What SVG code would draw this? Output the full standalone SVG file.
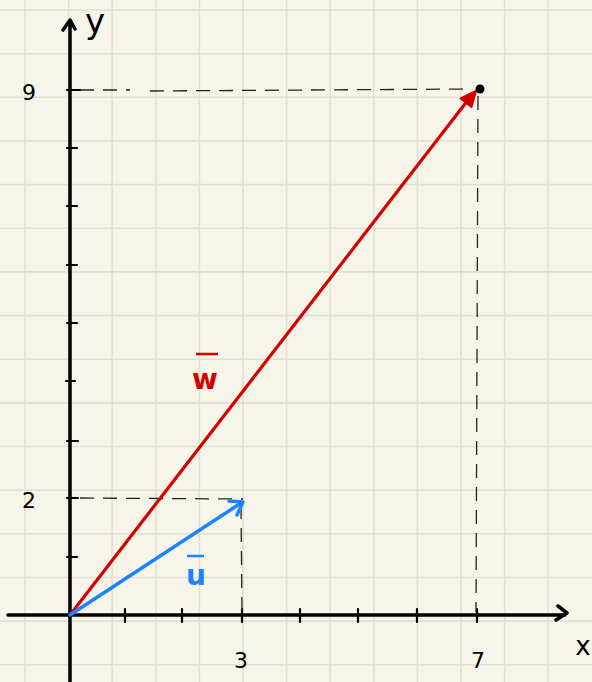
<svg xmlns="http://www.w3.org/2000/svg" width="592" height="682" viewBox="0 0 592 682">
<style>
.grid{stroke:#e2e0d4;stroke-width:1.6;fill:none}
.axis{stroke:#000;stroke-width:3.5;fill:none;stroke-linecap:round;stroke-linejoin:round}
.tick{stroke:#000;stroke-width:2.2;fill:none;stroke-linecap:round}
.dash{stroke:#222;stroke-width:1.3;fill:none;stroke-dasharray:14 9}
.lbl{font-family:"DejaVu Sans","Liberation Sans",sans-serif;fill:#000;font-size:22px;text-anchor:middle}
</style>
<rect width="592" height="682" fill="#f7f5e9"/>
<g id="grid">
<path class="grid" d="M25 0V682M68.6 0V682M112.2 0V682M155.8 0V682M199.4 0V682M243 0V682M286.6 0V682M330.2 0V682M373.8 0V682M417.4 0V682M461 0V682M504.6 0V682M548.2 0V682M0 10H592M0 53.7H592M0 97.3H592M0 141H592M0 184.6H592M0 228.3H592M0 271.9H592M0 315.6H592M0 359.2H592M0 402.9H592M0 446.5H592M0 490.2H592M0 533.8H592M0 577.5H592M0 621.1H592M0 664.8H592"/>
</g>
<g id="y-axis">
<path class="axis" d="M70 682V22M63 30L70 20L75 29"/>
<path class="tick" d="M67 148H77M67 206H77M67 265H77M67 323H77M66 381H75M67 441H78M67 498H78M67 557H77M67 90H80"/>
<text class="lbl" x="95" y="33" style="font-size:34px">y</text>
<text class="lbl" x="29" y="100">9</text>
<text class="lbl" x="29" y="508">2</text>
</g>
<g id="x-axis">
<path class="axis" d="M8 615H565M558 606L567 613L556 620"/>
<path class="tick" d="M125 609V622M182 609V622M242 609V622M300 609V622M358 609V622M417 609V622M477 609V622"/>
<text class="lbl" x="241" y="668">3</text>
<text class="lbl" x="478" y="668">7</text>
<text class="lbl" x="583" y="655" style="font-size:26px">x</text>
</g>
<g id="connectors">
<path class="dash" d="M80 90H130"/>
<path class="dash" d="M150 91L470 89"/>
<path class="dash" d="M478 96L476 612"/>
<path class="dash" d="M80 498L243 499" stroke-dasharray="9 9"/>
<path class="dash" d="M241 505L242 612" stroke-dasharray="9 7"/>
</g>
<g id="vector-w">
<path d="M70 615L468 100" stroke="#d40000" stroke-width="3.2" fill="none"/>
<polygon points="476,91 471.5,107 460.5,98.5" fill="#d40000" stroke="#d40000" stroke-width="2" stroke-linejoin="round"/>
<text x="205" y="389" font-family="DejaVu Sans, sans-serif" font-size="28" font-weight="bold" fill="#d40000" text-anchor="middle">w</text>
<path d="M196 354H218" stroke="#d40000" stroke-width="2.5"/>
</g>
<g id="vector-u">
<path d="M70 615L241 503" stroke="#1a84ff" stroke-width="3.5" fill="none" stroke-linecap="round"/>
<path d="M229 501L243 502L237 515" stroke="#1a84ff" stroke-width="3.5" fill="none" stroke-linecap="round" stroke-linejoin="round"/>
<text x="196" y="585" font-family="DejaVu Sans, sans-serif" font-size="28" font-weight="bold" fill="#1a84ff" text-anchor="middle">u</text>
<path d="M187 556H204" stroke="#1a84ff" stroke-width="2.5"/>
</g>
<g id="point">
<circle cx="480" cy="89" r="4.5" fill="#000"/>
</g>
</svg>
